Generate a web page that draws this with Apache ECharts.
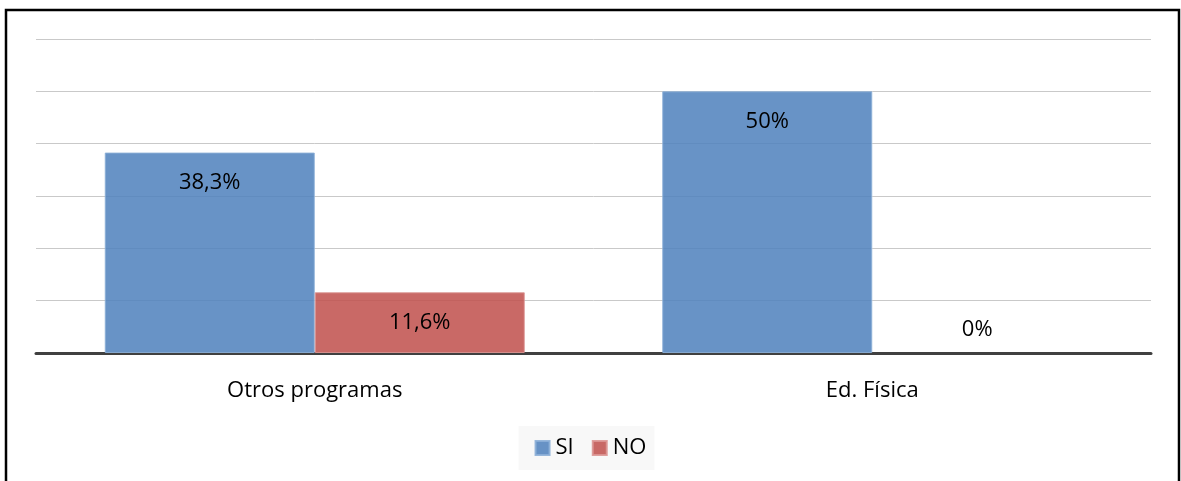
<!DOCTYPE html>
<html>
<head>
<meta charset="utf-8">
<script src="https://cdn.jsdelivr.net/npm/echarts@6/dist/echarts.min.js"></script>
<style>
  html, body { margin: 0; padding: 0; background: #ffffff; }
  #chart { width: 1181px; height: 481px; }
</style>
</head>
<body>
<div id="chart"></div>
<script>
// Categories and series values (percent)
const categories = ['Otros programas', 'Ed. Física'];
const siValues = [38.3, 50];
const noValues = [11.6, 0];
const seriesNames = ['SI', 'NO'];

const fontFamily = '"Open Sans", "Noto Sans", sans-serif';

function fmt(v) {
  return String(v).replace('.', ',') + '%';
}

// Zero-height bars get their label above the baseline and no outline
function barData(values) {
  return values.map(v => v === 0
    ? { value: v, label: { position: 'top', distance: 12 }, itemStyle: { borderWidth: 0 } }
    : v);
}

const labelStyle = {
  show: true,
  position: 'insideTop',
  distance: 19,
  color: '#000',
  fontSize: 22,
  fontFamily: fontFamily,
  formatter: p => fmt(p.value)
};

const chart = echarts.init(document.getElementById('chart'), null, { renderer: 'canvas' });

chart.setOption({
  animation: false,
  backgroundColor: '#ffffff',
  graphic: [{
    type: 'rect',
    shape: { x: 6, y: 10, width: 1173, height: 500 },
    style: { fill: 'none', stroke: '#000', lineWidth: 2.5 },
    z: 100
  }],
  grid: { left: 36, right: 30, top: 39, bottom: 128, containLabel: false },
  legend: {
    data: seriesNames,
    bottom: 11,
    left: 'center',
    itemWidth: 14,
    itemHeight: 14,
    itemGap: 18,
    padding: [11, 8, 11, 16],
    backgroundColor: '#f8f8f8',
    icon: 'rect',
    textStyle: { fontSize: 22, fontFamily: fontFamily, color: '#000', padding: [0, 0, 0, 1] }
  },
  xAxis: {
    type: 'category',
    data: categories,
    axisTick: { show: false },
    axisLine: { show: true, lineStyle: { color: '#404040', width: 3 } },
    axisLabel: { fontSize: 22, fontFamily: fontFamily, color: '#000', margin: 27 }
  },
  yAxis: {
    type: 'value',
    min: 0,
    max: 60,
    interval: 10,
    axisLabel: { show: false },
    axisLine: { show: false },
    axisTick: { show: false },
    splitLine: { lineStyle: { color: '#c9c9c9', width: 1 } }
  },
  series: [
    {
      name: seriesNames[0],
      type: 'bar',
      data: barData(siValues),
      barWidth: 210,
      barGap: '0%',
      itemStyle: { color: 'rgba(79,129,189,0.86)', borderColor: 'rgba(140,175,215,0.9)', borderWidth: 1 },
      label: labelStyle
    },
    {
      name: seriesNames[1],
      type: 'bar',
      data: barData(noValues),
      barWidth: 210,
      barGap: '0%',
      itemStyle: { color: 'rgba(192,80,77,0.86)', borderColor: 'rgba(220,150,148,0.9)', borderWidth: 1 },
      label: labelStyle
    }
  ]
});
</script>
</body>
</html>
